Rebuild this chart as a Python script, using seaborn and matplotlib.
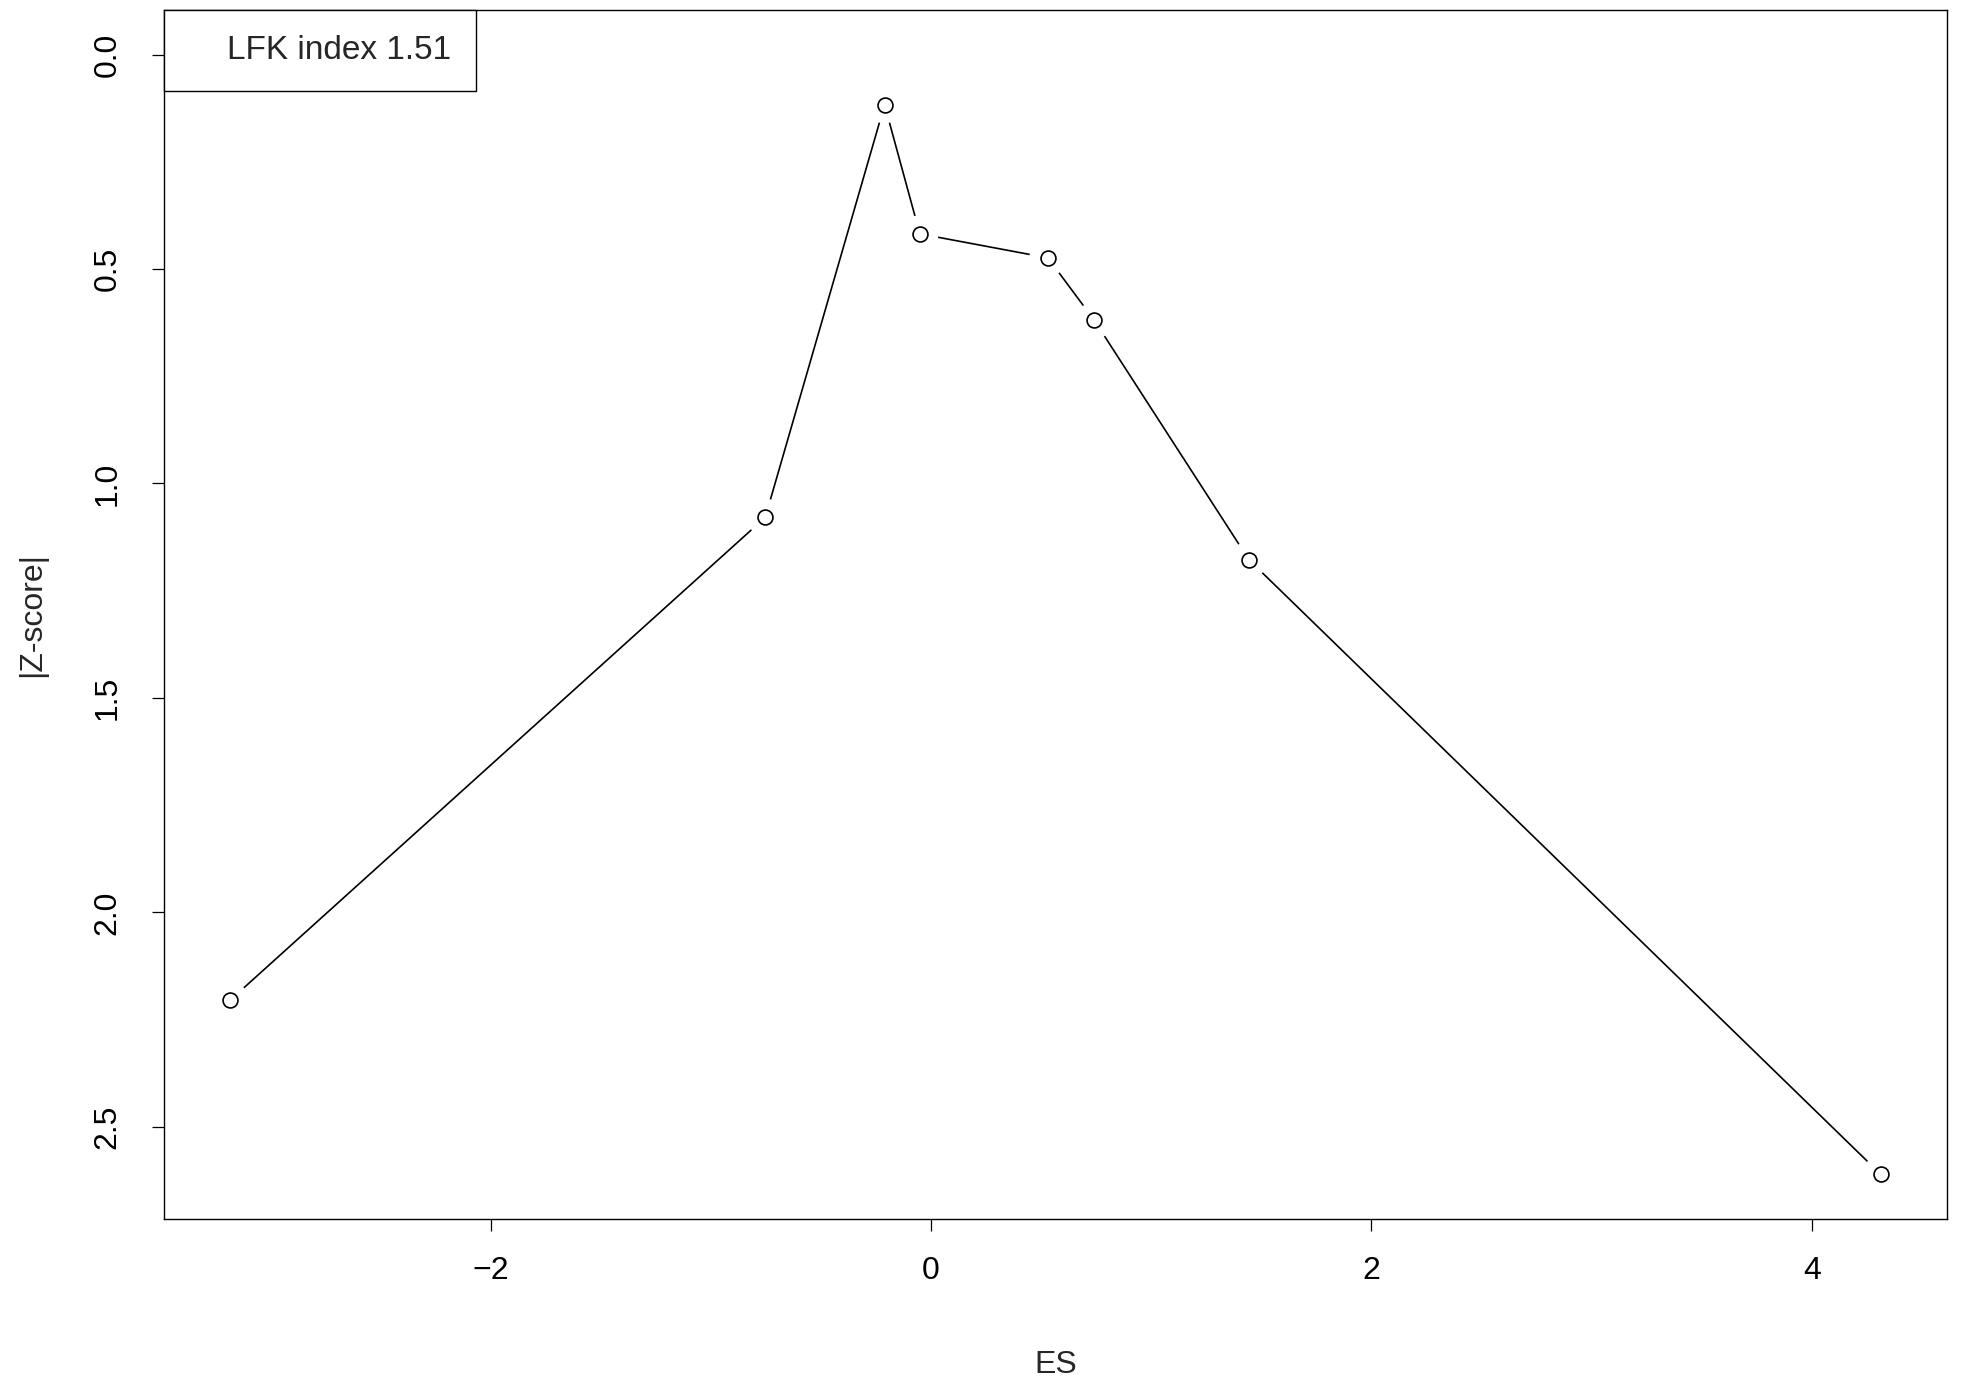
import matplotlib
matplotlib.use("Agg")
import matplotlib.pyplot as plt
from matplotlib.lines import Line2D
import seaborn as sns

es = [-3.184, -0.753, -0.211, -0.051, 0.531, 0.742, 1.444, 4.314]
zscore = [2.205, 1.079, 0.117, 0.418, 0.474, 0.620, 1.178, 2.611]
lfk_label = "LFK index 1.51"
x_ticks = [-2, 0, 2, 4]
y_ticks = [0.0, 0.5, 1.0, 1.5, 2.0, 2.5]

sns.set_style("ticks")
plt.rcParams['font.family'] = ['Liberation Sans', 'DejaVu Sans']

fig = plt.figure(figsize=(19.66, 13.84), dpi=100)
ax = fig.add_axes([0.0834, 0.1192, 0.9069, 0.8736])

# line first, then white discs to leave gaps like R's type="b", then open circles
sns.lineplot(x=es, y=zscore, sort=False, color="black", linewidth=1.2, ax=ax, zorder=1)
sns.scatterplot(x=es, y=zscore, s=720, color="white", edgecolor="none", ax=ax, zorder=2)
sns.scatterplot(x=es, y=zscore, s=115, facecolor="white", edgecolor="black",
                linewidth=1.2, ax=ax, zorder=3)

ax.set_xlim(-3.484, 4.614)
ax.set_ylim(2.715, -0.104)
ax.set_xticks(x_ticks)
ax.set_xticklabels([str(t).replace("-", "\u2212") for t in x_ticks])
ax.set_yticks(y_ticks)
ax.set_yticklabels([f"{t:.1f}" for t in y_ticks])

for side in ["top", "right", "bottom", "left"]:
    ax.spines[side].set_visible(True)
    ax.spines[side].set_linewidth(1.0)
    ax.spines[side].set_color("black")

ax.tick_params(axis="both", direction="out", length=8.6, width=0.9,
               labelsize=23, colors="black")
ax.tick_params(axis="x", pad=18)
ax.tick_params(axis="y", pad=21)
for lab in ax.get_yticklabels():
    lab.set_rotation(90)
    lab.set_va("center")

ax.set_xlabel("ES", fontsize=23, labelpad=46)
ax.set_ylabel("|Z-score|", fontsize=23, labelpad=33)

handle = Line2D([], [], linestyle="none", marker=None)
leg = ax.legend([handle], [lfk_label], loc="upper left", borderaxespad=0,
                fontsize=24, frameon=True, fancybox=False, framealpha=1,
                edgecolor="black", handlelength=1.0, handletextpad=0.15,
                borderpad=0.75)
leg.get_frame().set_linewidth(1.0)

plt.savefig("out.png", dpi=100)
